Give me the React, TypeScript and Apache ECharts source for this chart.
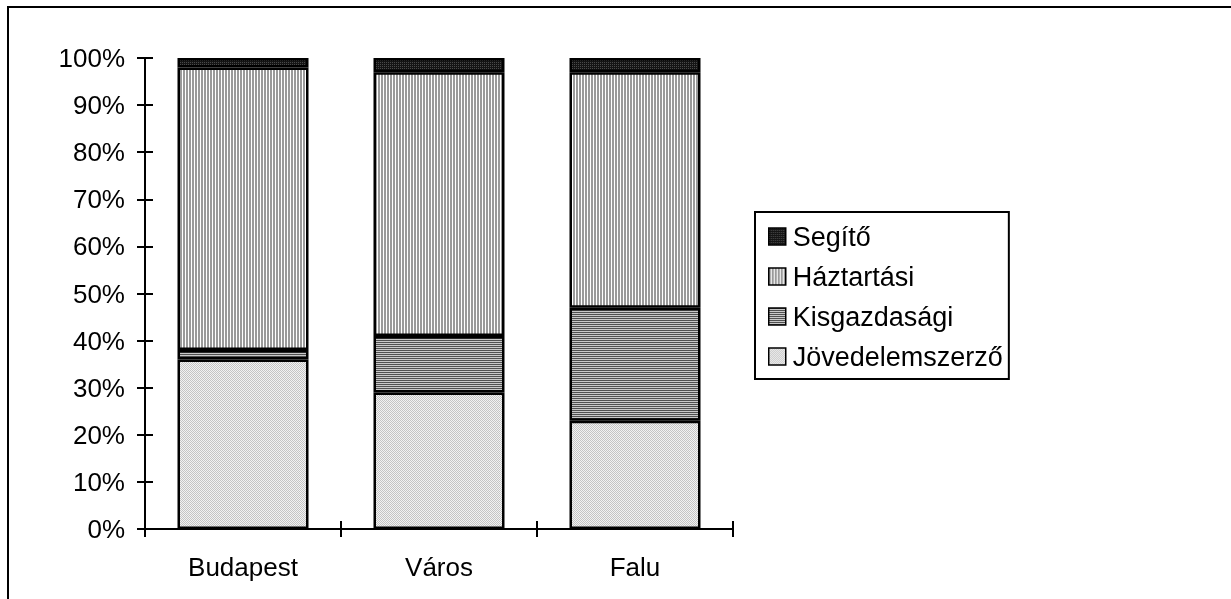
import React, { useEffect, useRef } from "react";
import * as echarts from "echarts";

const categories = ["Budapest", "Város", "Falu"];
const seriesNames = ["Jövedelemszerző", "Kisgazdasági", "Háztartási", "Segítő"];
const jovedelemszerzo = [36, 29, 23];
const kisgazdasagi = [2, 12, 24];
const haztartasi = [60, 56, 50];
const segito = [2, 3, 3];
const legendOrder = ["Segítő", "Háztartási", "Kisgazdasági", "Jövedelemszerző"];

const FONT = "'Liberation Sans', Arial, sans-serif";

function makePattern(w: number, h: number, draw: (ctx: CanvasRenderingContext2D) => void) {
  const c = document.createElement("canvas");
  c.width = w;
  c.height = h;
  const ctx = c.getContext("2d")!;
  draw(ctx);
  return { image: c, repeat: "repeat" } as any;
}

export default function App() {
  const ref = useRef<HTMLDivElement>(null);
  useEffect(() => {
    if (!ref.current) return;
    const chart = echarts.init(ref.current, undefined, { renderer: "svg" });

    const dots = makePattern(2, 2, (ctx) => {
      ctx.fillStyle = "#f2f2f2";
      ctx.fillRect(0, 0, 2, 2);
      ctx.fillStyle = "#c4c4c4";
      ctx.fillRect(0, 0, 1, 1);
      ctx.fillRect(1, 1, 1, 1);
    });
    const hStripes = makePattern(2, 2, (ctx) => {
      ctx.fillStyle = "#c8c8c8";
      ctx.fillRect(0, 0, 2, 2);
      ctx.fillStyle = "#505050";
      ctx.fillRect(0, 0, 2, 1);
    });
    const vStripes = makePattern(3, 3, (ctx) => {
      ctx.fillStyle = "#ffffff";
      ctx.fillRect(0, 0, 3, 3);
      ctx.fillStyle = "#9a9a9a";
      ctx.fillRect(0, 0, 2, 3);
    });
    const darkDots = makePattern(2, 2, (ctx) => {
      ctx.fillStyle = "#151515";
      ctx.fillRect(0, 0, 2, 2);
      ctx.fillStyle = "#4a4a4a";
      ctx.fillRect(0, 0, 1, 1);
    });
    const fills = [dots, hStripes, vStripes, darkDots];
    const values = [jovedelemszerzo, kisgazdasagi, haztartasi, segito];

    chart.setOption({
      animation: false,
      textStyle: { fontFamily: FONT, color: "#000" },
      graphic: [
        {
          type: "rect",
          shape: { x: 8, y: 7, width: 1400, height: 800 },
          style: { fill: "none", stroke: "#000", lineWidth: 2 },
          silent: true,
        },
      ],
      grid: { left: 145, top: 58, width: 588, height: 471, containLabel: false },
      legend: {
        orient: "vertical",
        left: 755,
        top: 212,
        data: legendOrder,
        itemWidth: 17,
        itemHeight: 17,
        itemGap: 13,
        padding: [11, 6, 9, 13],
        borderColor: "#000",
        borderWidth: 2,
        icon: "rect",
        selectedMode: false,
        itemStyle: { borderColor: "#000", borderWidth: 1.5 },
        textStyle: { fontSize: 27, color: "#000", fontFamily: FONT, padding: [0, 0, 0, 2] },
      },
      xAxis: [
        {
          type: "category",
          data: categories,
          boundaryGap: true,
          axisLine: { lineStyle: { color: "#000", width: 2 } },
          axisTick: { show: true, length: 8, lineStyle: { color: "#000", width: 2 } },
          axisLabel: { color: "#000", fontSize: 26, fontFamily: FONT, margin: 25 },
          splitLine: { show: false },
        },
        {
          type: "category",
          data: categories,
          position: "bottom",
          offset: 0,
          boundaryGap: true,
          axisLine: { show: false },
          axisTick: { show: true, inside: true, length: 8, lineStyle: { color: "#000", width: 2 } },
          axisLabel: { show: false },
          splitLine: { show: false },
        },
      ],
      yAxis: [
        {
          type: "value",
          min: 0,
          max: 100,
          interval: 10,
          axisLine: { show: true, lineStyle: { color: "#000", width: 2 } },
          axisTick: { show: true, length: 8, lineStyle: { color: "#000", width: 2 } },
          axisLabel: { color: "#000", fontSize: 26, fontFamily: FONT, margin: 20, formatter: "{value}%" },
          splitLine: { show: false },
        },
        {
          type: "value",
          min: 0,
          max: 100,
          interval: 10,
          position: "left",
          offset: 0,
          axisLine: { show: false },
          axisTick: { show: true, inside: true, length: 8, lineStyle: { color: "#000", width: 2 } },
          axisLabel: { show: false },
          splitLine: { show: false },
        },
      ],
      series: seriesNames.map((name, i) => ({
        name,
        type: "bar",
        stack: "total",
        barWidth: 131,
        xAxisIndex: 0,
        yAxisIndex: 0,
        data: values[i],
        itemStyle: { color: fills[i], borderColor: "#000", borderWidth: 2.5 },
        emphasis: { disabled: true },
      })),
    });
    return () => chart.dispose();
  }, []);
  return <div ref={ref} style={{ position: "fixed", left: 0, top: 0, width: 1231, height: 599 }} />;
}
